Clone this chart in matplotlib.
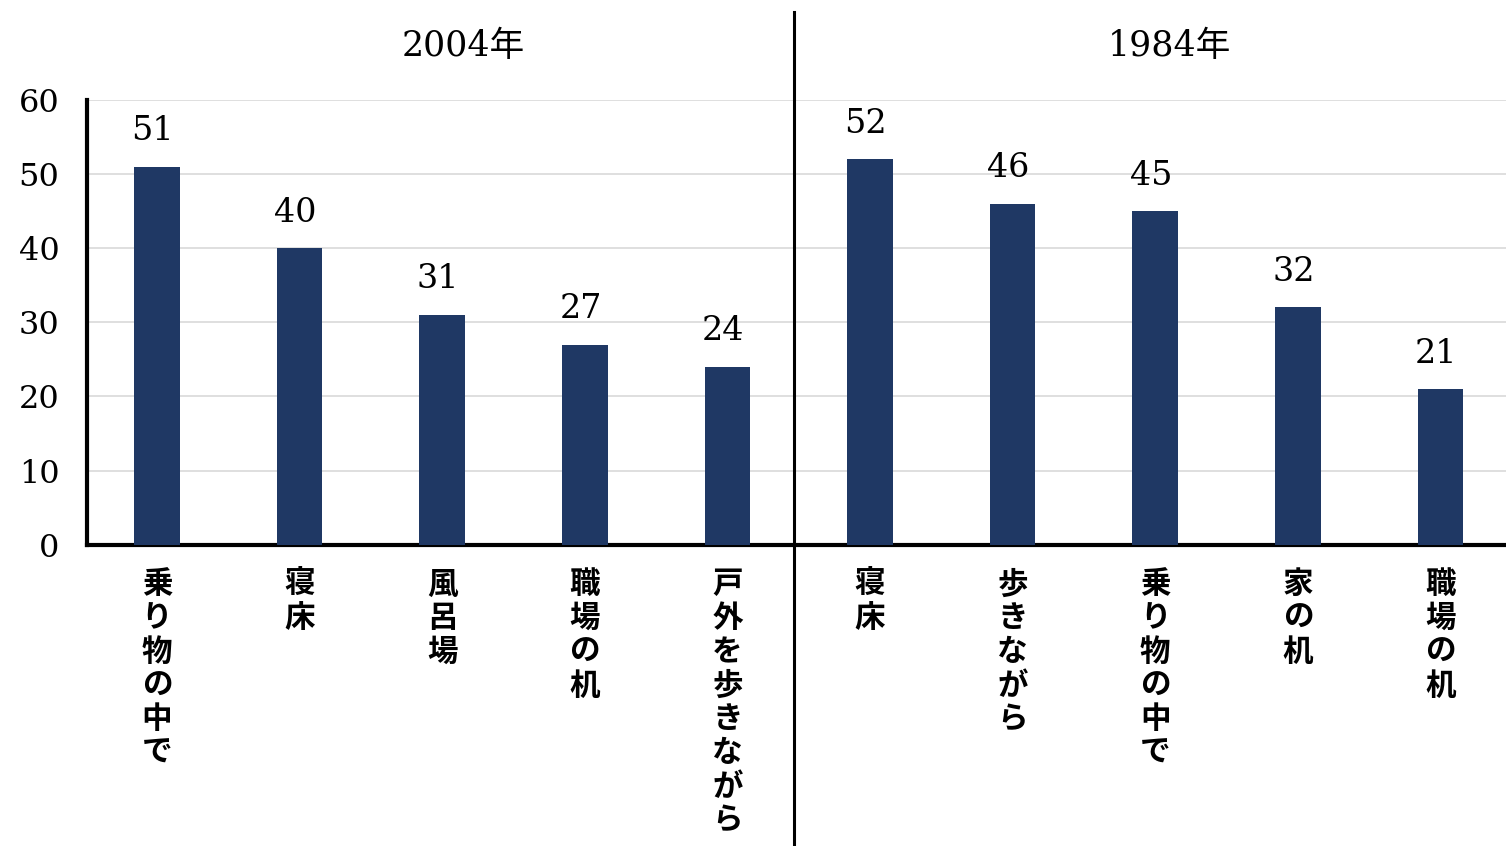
import matplotlib
matplotlib.use("Agg")
import matplotlib.pyplot as plt
import matplotlib.transforms as mtransforms

plt.rcParams['font.family'] = ['Noto Sans CJK JP', 'DejaVu Sans']

# データ
groups = ["2004年", "1984年"]
labels_2004 = ["乗り物の中で", "寝床", "風呂場", "職場の机", "戸外を歩きながら"]
values_2004 = [51, 40, 31, 27, 24]
labels_1984 = ["寝床", "歩きながら", "乗り物の中で", "家の机", "職場の机"]
values_1984 = [52, 46, 45, 32, 21]
yticks = [0, 10, 20, 30, 40, 50, 60]

labels = labels_2004 + labels_1984
values = values_2004 + values_1984
xs = list(range(len(values)))

bar_color = '#1f3864'
num_font = ['DejaVu Serif', 'Noto Sans CJK JP']

fig = plt.figure(figsize=(15.06, 8.46), dpi=100)
ax = fig.add_axes([0.0578, 0.356, 0.9422, 0.526])

ax.bar(xs, values, width=0.32, color=bar_color, zorder=3)

ax.set_xlim(-0.49, 9.46)
ax.set_ylim(0, 60)
ax.set_yticks(yticks)
ax.set_yticklabels([str(t) for t in yticks], family=num_font, fontsize=23)
ax.tick_params(axis='y', length=0, pad=20)
ax.set_xticks([])
ax.grid(axis='y', color='#d9d9d9', linewidth=1.2, zorder=0)

for s in ['top', 'right']:
    ax.spines[s].set_visible(False)
ax.spines['left'].set_linewidth(3)
ax.spines['bottom'].set_linewidth(3)

# 値ラベル
for x, v in zip(xs, values):
    ax.annotate(str(v), xy=(x, v), xytext=(-3, 14), textcoords='offset points',
                ha='center', va='bottom', family=num_font, fontsize=24)

# 縦書きラベル
for x, lab in zip(xs, labels):
    ax.annotate("\n".join(lab), xy=(x, 0), xytext=(0, -17), textcoords='offset points',
                ha='center', va='top', fontsize=22, fontweight='bold',
                linespacing=1.07, annotation_clip=False)

# 区切り線
ax.axvline(4.47, ymin=-0.68, ymax=1.198, color='black', linewidth=2.2, clip_on=False)

# 年ラベル
trans = mtransforms.blended_transform_factory(ax.transData, fig.transFigure)
ax.text(2.15, 1 - 46 / 846, groups[0], transform=trans, ha='center', va='center',
        family=num_font, fontsize=25)
ax.text(7.1, 1 - 46 / 846, groups[1], transform=trans, ha='center', va='center',
        family=num_font, fontsize=25)

fig.savefig("out.png", dpi=100)
